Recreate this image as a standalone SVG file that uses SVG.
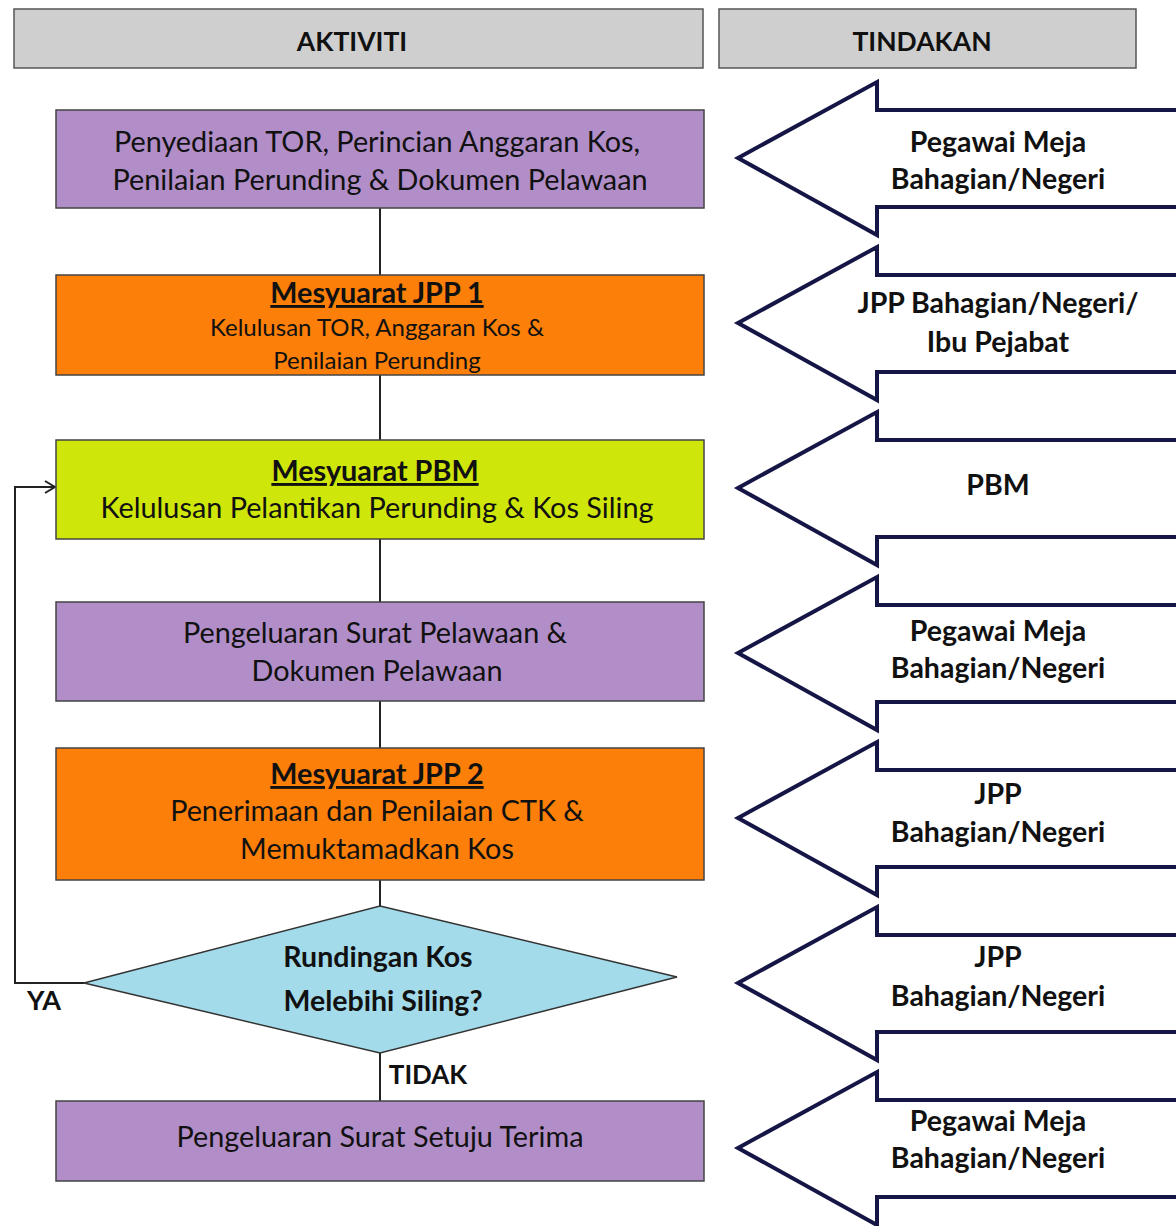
<svg xmlns="http://www.w3.org/2000/svg" width="1176" height="1226" viewBox="0 0 1176 1226">
<style>
text{font-family:Lato,"Liberation Sans",sans-serif;fill:#111;text-anchor:middle}
.hd{fill:#cfcfcf;stroke:#555;stroke-width:1.5}
.box{stroke:#444;stroke-width:1.5}
.pur{fill:#b28ec8}
.org{fill:#fb7f09}
.grn{fill:#cfe60a}
.dia{fill:#a3dbea;stroke:#333;stroke-width:1.5}
.arr{fill:#fff;stroke:#151646;stroke-width:4;stroke-linejoin:miter}
.t26{font-size:28.8px}
.t21{font-size:24px}
.b{font-weight:bold}
.u{text-decoration:underline}
.at{font-size:28.5px;font-weight:bold}
.ln{stroke:#222;stroke-width:2;fill:none}
</style>
<defs>
<marker id="open" markerWidth="14" markerHeight="14" refX="12" refY="7" orient="auto" markerUnits="userSpaceOnUse">
<polyline points="2,1 12,7 2,13" fill="none" stroke="#222" stroke-width="2"/>
</marker>
</defs>
<rect width="1176" height="1226" fill="#fff"/>

<g id="header-aktiviti"><rect class="hd" x="14" y="9" width="689" height="59"/><text x="352" y="51" class="b" font-size="26.5">AKTIVITI</text></g>
<g id="header-tindakan"><rect class="hd" x="719" y="9" width="417" height="59"/><text x="922" y="51" class="b" font-size="26.5">TINDAKAN</text></g>

<g id="connectors">
<line class="ln" x1="380" y1="208" x2="380" y2="275"/>
<line class="ln" x1="380" y1="375" x2="380" y2="440"/>
<line class="ln" x1="380" y1="539" x2="380" y2="602"/>
<line class="ln" x1="380" y1="701" x2="380" y2="748"/>
<line class="ln" x1="380" y1="880" x2="380" y2="906"/>
<line class="ln" x1="380" y1="1053" x2="380" y2="1101"/>
<polyline class="ln" points="84,983 15,983 15,487 55,487" marker-end="url(#open)"/>
<text x="44" y="1010" class="b" font-size="27">YA</text>
<text x="428" y="1084" class="b" font-size="26">TIDAK</text>
</g>

<g id="n1"><rect class="box pur" x="56" y="110" width="648" height="98"/>
<text x="377" y="152" class="t26">Penyediaan TOR, Perincian Anggaran Kos,</text>
<text x="380" y="190" class="t26">Penilaian Perunding &amp; Dokumen Pelawaan</text></g>

<g id="n2"><rect class="box org" x="56" y="275" width="648" height="100"/>
<text x="377" y="303" class="b u" font-size="28.8">Mesyuarat JPP 1</text>
<text x="377" y="336" class="t21">Kelulusan TOR, Anggaran Kos &amp;</text>
<text x="377" y="369" class="t21">Penilaian Perunding</text></g>

<g id="n3"><rect class="box grn" x="56" y="440" width="648" height="99"/>
<text x="375" y="481" class="b u" font-size="28.8">Mesyuarat PBM</text>
<text x="377" y="518" class="t26">Kelulusan Pelantikan Perunding &amp; Kos Siling</text></g>

<g id="n4"><rect class="box pur" x="56" y="602" width="648" height="99"/>
<text x="375" y="643" class="t26">Pengeluaran Surat Pelawaan &amp;</text>
<text x="377" y="681" class="t26">Dokumen Pelawaan</text></g>

<g id="n5"><rect class="box org" x="56" y="748" width="648" height="132"/>
<text x="377" y="784" class="b u" font-size="28.8">Mesyuarat JPP 2</text>
<text x="377" y="821" class="t26">Penerimaan dan Penilaian CTK &amp;</text>
<text x="377" y="859" class="t26">Memuktamadkan Kos</text></g>

<g id="n6"><polygon class="dia" points="380,906 677,977 380,1053 84,983"/>
<text x="378" y="967" class="b" font-size="28.5">Rundingan Kos</text>
<text x="383" y="1011" class="b" font-size="28.5">Melebihi Siling?</text></g>

<g id="n7"><rect class="box pur" x="56" y="1101" width="648" height="80"/>
<text x="380" y="1147" class="t26">Pengeluaran Surat Setuju Terima</text></g>

<g id="a1"><path class="arr" d="M1182 110 L877 110 L877 82 L738 158 L877 235 L877 207 L1182 207 Z"/>
<text x="998" y="152" class="at">Pegawai Meja</text><text x="998" y="189" class="at">Bahagian/Negeri</text></g>
<g id="a2"><path class="arr" d="M1182 275 L877 275 L877 247 L738 323 L877 400 L877 372 L1182 372 Z"/>
<text x="998" y="313" class="at">JPP Bahagian/Negeri/</text><text x="998" y="352" class="at">Ibu Pejabat</text></g>
<g id="a3"><path class="arr" d="M1182 440 L877 440 L877 412 L738 488 L877 565 L877 537 L1182 537 Z"/>
<text x="998" y="495" class="at">PBM</text></g>
<g id="a4"><path class="arr" d="M1182 605 L877 605 L877 577 L738 653 L877 730 L877 702 L1182 702 Z"/>
<text x="998" y="641" class="at">Pegawai Meja</text><text x="998" y="678" class="at">Bahagian/Negeri</text></g>
<g id="a5"><path class="arr" d="M1182 770 L877 770 L877 742 L738 818 L877 895 L877 867 L1182 867 Z"/>
<text x="998" y="804" class="at">JPP</text><text x="998" y="842" class="at">Bahagian/Negeri</text></g>
<g id="a6"><path class="arr" d="M1182 935 L877 935 L877 907 L738 983 L877 1060 L877 1032 L1182 1032 Z"/>
<text x="998" y="967" class="at">JPP</text><text x="998" y="1006" class="at">Bahagian/Negeri</text></g>
<g id="a7"><path class="arr" d="M1182 1100 L877 1100 L877 1072 L738 1148 L877 1225 L877 1197 L1182 1197 Z"/>
<text x="998" y="1131" class="at">Pegawai Meja</text><text x="998" y="1168" class="at">Bahagian/Negeri</text></g>
</svg>
